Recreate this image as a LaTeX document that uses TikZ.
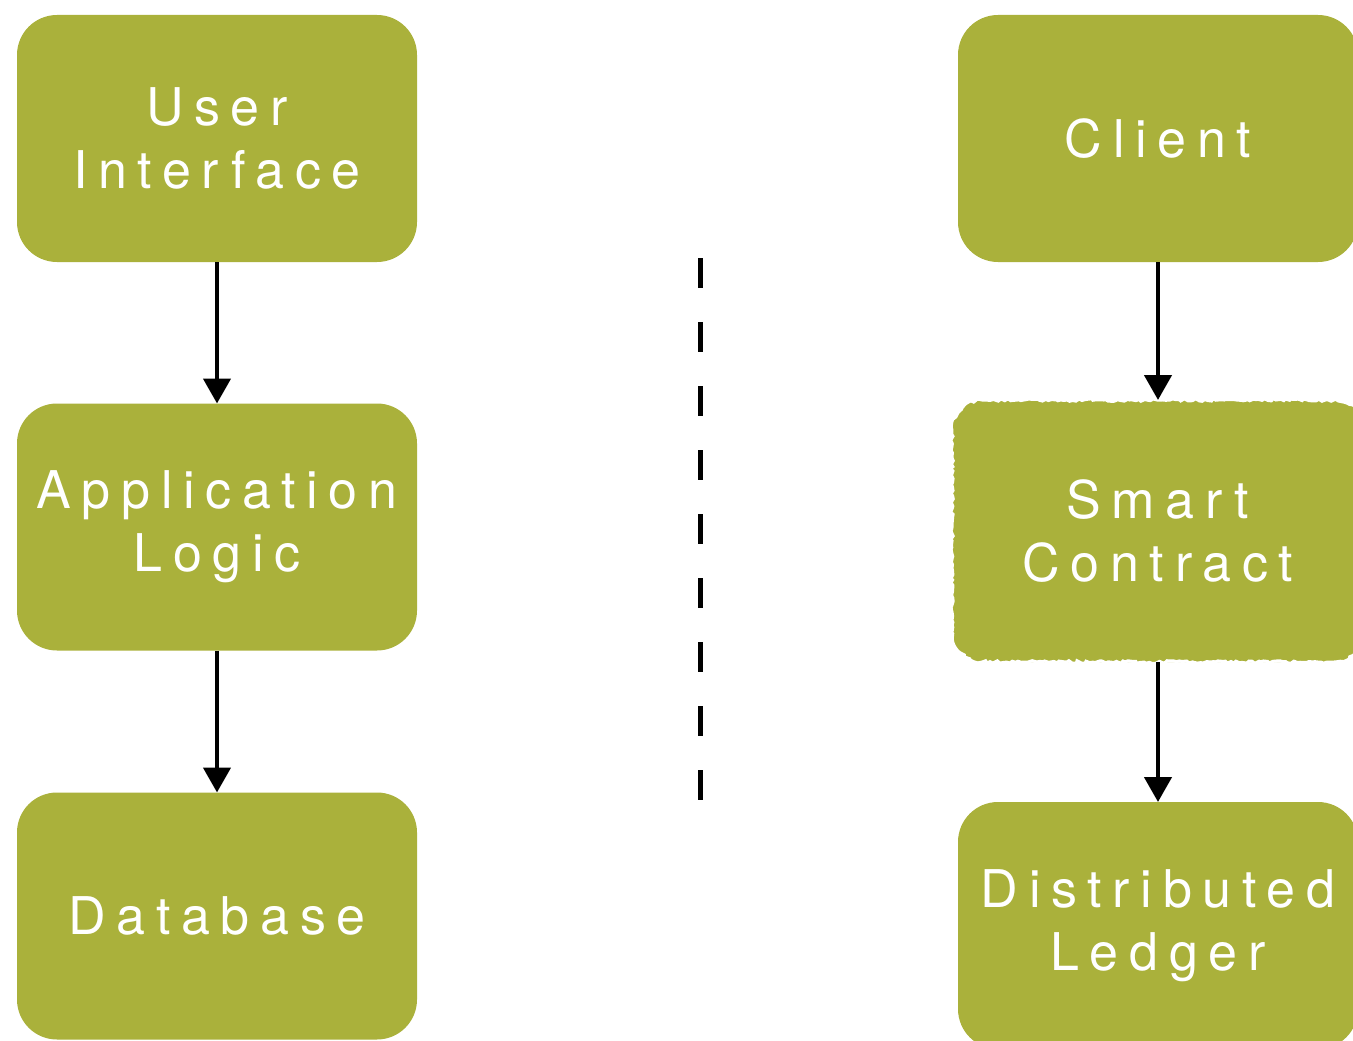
\documentclass[tikz,border=0pt]{standalone}
\usepackage{fontspec}
\newfontfamily\boxfont[LetterSpace=20.5]{TeX Gyre Heros}
\usetikzlibrary{
  arrows.meta,
  decorations.pathmorphing
}
\definecolor{leafgreen}{HTML}{AAB13B}
\tikzset{
  % For the layer boxes.
  layer/.style={
    rectangle,
    rounded corners=40pt,
    fill=leafgreen,
    text=white,
    font=\boxfont\fontsize{52}{63}\selectfont,
    align=center,
    minimum width=400pt,
    minimum height=247pt,
    inner sep=0pt,
    outer sep=0pt},
%
  % For the box with the torn edge.
  torn layer/.style={
    layer,
    rounded corners=30pt,
    minimum width=412pt,
    minimum height=262pt,
    postaction={
      draw=white,
      line width=3pt,
      sharp corners,
      decorate,
      decoration={random steps, segment length=3pt, amplitude=1.3pt}}},
%
  % For the calls between layers.
  flow/.style={
    line width=4.5pt,
    -{Triangle[length=25pt, width=27pt]}},
%
  % For the divider in the middle.
  divider/.style={
    line width=5pt,
    dash pattern=on 30pt off 34pt},
}
\begin{document}
\begin{tikzpicture}[x=1pt, y=-1pt]
  \useasboundingbox (0,0) rectangle (1353,1041);

  % Classic three tiers.
  \node[layer] (ui) at (217,138.5) {User\\Interface};
  \node[layer] (logic) at (217,527) {Application\\Logic};
  \node[layer] (db) at (217,916) {Database};

  % Blockchain tiers.
  \node[layer] (client) at (1158,138.5) {Client};
  \node[torn layer] (contract) at (1158,531) {Smart\\Contract};
  \node[layer] (ledger) at (1158,925.5) {Distributed\\Ledger};

  \draw[flow] (ui) -- (logic);
  \draw[flow] (logic) -- (db);
  \draw[flow] (client) -- (contract);
  \draw[flow] (contract) -- (ledger);

  \coordinate (top) at (700,258);
  \coordinate (bottom) at (700,800);
  \draw[divider] (top) -- (bottom);
\end{tikzpicture}
\end{document}
